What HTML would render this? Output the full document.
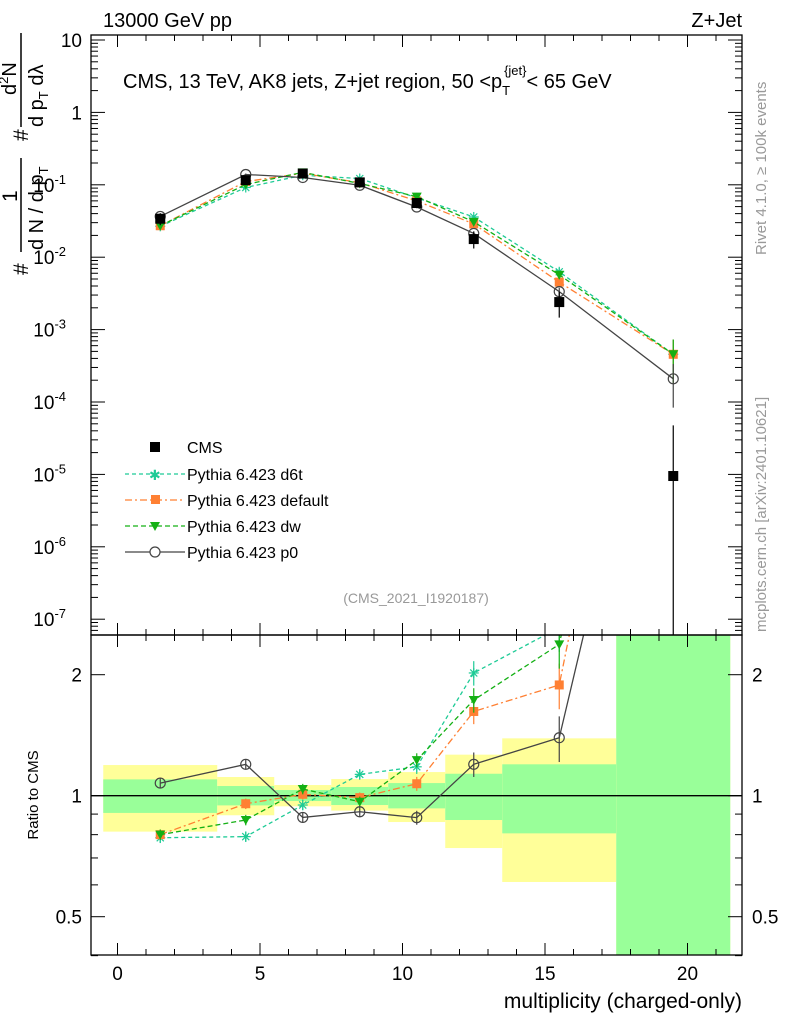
<!DOCTYPE html>
<html><head><meta charset="utf-8"><style>
html,body{margin:0;background:#fff;width:786px;height:1024px;overflow:hidden;position:relative;}
svg{display:block;font-family:"Liberation Sans",sans-serif;}
</style></head><body>
<svg id="c" width="786" height="1024"></svg>
<script>
const bins=[1.5,4.5,6.5,8.5,10.5,12.5,15.5,19.5];
const edges=[-0.5,3.5,5.5,7.5,9.5,11.5,13.5,17.5,21.5];
const cms=[0.034,0.116,0.143,0.108,0.056,0.0178,0.0024,9.5e-6];
const bandOuterLo=[0.814,0.894,0.941,0.918,0.860,0.741,0.610,0.2];
const bandOuterHi=[1.192,1.113,1.063,1.100,1.145,1.265,1.389,5];
const bandInnerLo=[0.906,0.946,0.970,0.948,0.930,0.870,0.806,0.2];
const bandInnerHi=[1.098,1.057,1.033,1.051,1.075,1.134,1.197,5];
const rD6t=[0.786,0.791,0.948,1.13,1.18,2.02,2.62,48];
const rDefault=[0.80,0.955,1.008,0.989,1.071,1.62,1.886,48];
const rDw=[0.80,0.870,1.039,0.966,1.226,1.73,2.38,48];
const rP0=[1.075,1.197,0.883,0.912,0.882,1.197,1.394,22];
const mcErr=[0.03,0.03,0.03,0.03,0.04,0.07,0.13,0.6];
const yTicksMain=[1,0,-1,-2,-3,-4,-5,-6,-7];
const xTicks=[0,5,10,15,20];
const rTicks=[0.5,1,2];

const NS="http://www.w3.org/2000/svg";
const svg=document.getElementById('c');
function el(t,a,p){const e=document.createElementNS(NS,t);for(const k in a)e.setAttribute(k,a[k]);(p||svg).appendChild(e);return e;}
const L=91,R=742,T=35,MB=635,RB=955;
const X=v=>117.5+v*28.5;
const Y=v=>40+72.4*(1-Math.log10(v));
const YR=r=>795.7-121*Math.log2(r);
const clipR=el('clipPath',{id:'cr'});el('rect',{x:L,y:MB,width:R-L,height:RB-MB},clipR);
const clipM=el('clipPath',{id:'cm'});el('rect',{x:L,y:T,width:R-L,height:MB-T},clipM);

const gB=el('g',{'clip-path':'url(#cr)'});

for(let i=0;i<bins.length;i++){
 const x0=X(edges[i]),x1=X(edges[i+1]);
 const a=el('rect',{x:x0,y:YR(bandOuterHi[i]),width:x1-x0,height:YR(bandOuterLo[i])-YR(bandOuterHi[i]),fill:'#ffff99'},gB);
 
 const b=el('rect',{x:x0,y:YR(bandInnerHi[i]),width:x1-x0,height:YR(bandInnerLo[i])-YR(bandInnerHi[i]),fill:'#99ff99'},gB);
 
}
el('line',{x1:L,x2:R,y1:YR(1),y2:YR(1),stroke:'#000','stroke-width':1.3});

const series=[
 {n:'d6t',r:rD6t,c:'#1ecb96',d:'4,3',m:'star'},
 {n:'default',r:rDefault,c:'#ff8033',d:'7,3,2,3',m:'sq'},
 {n:'dw',r:rDw,c:'#14b014',d:'5,3',m:'tri'},
 {n:'p0',r:rP0,c:'#444',d:'',m:'circ'}];
function marker(g,m,x,y,c){
 if(m==='sq')el('rect',{x:x-4.5,y:y-4.5,width:9,height:9,fill:c},g);
 else if(m==='tri')el('path',{d:`M${x-5},${y-4}L${x+5},${y-4}L${x},${y+5}Z`,fill:c},g);
 else if(m==='circ')el('circle',{cx:x,cy:y,r:5,fill:'none',stroke:c,'stroke-width':1.2},g);
 else{for(const a of [0,45,90,135]){const t=a*Math.PI/180;el('line',{x1:x-5*Math.cos(t),y1:y-5*Math.sin(t),x2:x+5*Math.cos(t),y2:y+5*Math.sin(t),stroke:c,'stroke-width':1.2},g);}}
}
function drawSeries(s,main){
 const g=el('g',{'clip-path':main?'url(#cm)':'url(#cr)'});
 
 
 const pts=bins.map((b,i)=>{const v=s.r[i]*(main?cms[i]:1);return [X(b),main?Y(v):YR(v),v];});
 el('polyline',{points:pts.map(p=>p[0]+','+p[1]).join(' '),fill:'none',stroke:s.c,'stroke-width':1.3,'stroke-dasharray':s.d},g);
 pts.forEach((p,i)=>{
  const f=main?Y:YR;const v=p[2];
  el('line',{x1:p[0],x2:p[0],y1:f(v*(1+mcErr[i])),y2:f(v*Math.max(0.05,1-mcErr[i])),stroke:s.c,'stroke-width':1.2},g);
  marker(g,s.m,p[0],p[1],s.c);
 });
}
series.forEach(s=>drawSeries(s,false));
series.forEach(s=>drawSeries(s,true));
const gC=el('g',{'clip-path':'url(#cm)'});

bins.forEach((b,i)=>{
 el('line',{x1:X(b),x2:X(b),y1:Y(cms[i]*bandOuterHi[i]),y2:i===7?MB:Y(cms[i]*bandOuterLo[i]),stroke:'#000','stroke-width':1.2},gC);
 el('rect',{x:X(b)-5,y:Y(cms[i])-5,width:10,height:10,fill:'#000'},gC);
});

el('rect',{x:L,y:T,width:R-L,height:MB-T,fill:'none',stroke:'#000','stroke-width':1.3});
el('rect',{x:L,y:MB,width:R-L,height:RB-MB,fill:'none',stroke:'#000','stroke-width':1.3});
for(let v=-0;v<=21;v++){
 const maj=v%5===0,x=X(v),len=maj?12:6;
 for(const [y0,d] of [[MB,-1],[T,1],[RB,-1],[MB,1]])el('line',{x1:x,x2:x,y1:y0,y2:y0+d*len,stroke:'#000'});
}
xTicks.forEach(v=>{const t=el('text',{x:X(v),y:980,'font-size':19,'text-anchor':'middle'});t.textContent=v;
 });
for(let e=-8;e<=1;e++){for(let k=1;k<10;k++){const v=k*Math.pow(10,e);const y=Y(v);if(y<T||y>MB)continue;
 const len=k===1?14:7;el('line',{x1:L,x2:L+len,y1:y,y2:y,stroke:'#000'});el('line',{x1:R,x2:R-len,y1:y,y2:y,stroke:'#000'});}}
yTicksMain.forEach(e=>{const y=Y(Math.pow(10,e));const t=el('text',{x:e>=0?82:66,y:y+7,'font-size':19,'text-anchor':'end'});
 
 if(e===1)t.textContent='10';else if(e===0)t.textContent='1';
 else{t.textContent='10';const s=el('tspan',{dy:-8,'font-size':13},t);s.textContent=e;}});
[0.4,0.5,0.6,0.7,0.8,0.9,1,2].forEach(v=>{const y=YR(v);const len=rTicks.includes(v)?14:7;
 el('line',{x1:L,x2:L+len,y1:y,y2:y,stroke:'#000'});el('line',{x1:R,x2:R-len,y1:y,y2:y,stroke:'#000'});});
rTicks.forEach(v=>{for(const [x,a] of [[82,'end'],[752,'start']]){const t=el('text',{x:x,y:YR(v)+7,'font-size':19,'text-anchor':a});t.textContent=v;
 }});
</script>
<svg width="786" height="1024" style="position:absolute;left:0;top:0">
<text x="103" y="27" font-size="20">13000 GeV pp</text>
<text x="742" y="27" font-size="20" text-anchor="end">Z+Jet</text>
<text x="123" y="88" font-size="20">CMS, 13 TeV, AK8 jets, Z+jet region, 50 &lt;p<tspan dy="7" font-size="13">T</tspan><tspan dx="-6" dy="-20" font-size="13">{jet}</tspan><tspan dy="13">&lt; 65 GeV</tspan></text>
<text x="416" y="603" font-size="14" fill="#999" text-anchor="middle">(CMS_2021_I1920187)</text>
<text transform="translate(766,255) rotate(-90)" font-size="15" fill="#999">Rivet 4.1.0, ≥ 100k events</text>
<text transform="translate(766,632) rotate(-90)" font-size="15" fill="#999">mcplots.cern.ch [arXiv:2401.10621]</text>
<text transform="translate(38,795) rotate(-90)" font-size="15" text-anchor="middle">Ratio to CMS</text>
<text x="742" y="1008" font-size="21" text-anchor="end">multiplicity (charged-only)</text>
<g transform="translate(0,275) rotate(-90)" font-size="21">
<text x="0" y="28">#</text>
<line x1="23" x2="117" y1="21" y2="21" stroke="#000" stroke-width="1.5"/>
<text x="73" y="17">1</text>
<text x="25" y="43" font-size="20">d N / d p<tspan font-size="13" dy="5">T</tspan></text>
<text x="134" y="28">#</text>
<line x1="148" x2="242" y1="21" y2="21" stroke="#000" stroke-width="1.5"/>
<text x="180" y="16" font-size="20">d<tspan font-size="13" dy="-8">2</tspan><tspan dy="8">N</tspan></text>
<text x="148" y="43" font-size="20">d p<tspan font-size="13" dy="5">T</tspan><tspan dy="-5"> d</tspan>λ</text>
</g>
<g font-size="16">
<rect x="150" y="442" width="10" height="10" fill="#000"/><text x="187" y="453">CMS</text>
<line x1="125" x2="185" y1="474" y2="474" stroke="#1ecb96" stroke-dasharray="4,3" stroke-width="1.3"/><text x="187" y="480">Pythia 6.423 d6t</text>
<text x="149" y="480" font-size="14" fill="#1ecb96">✱</text>
<line x1="125" x2="185" y1="500" y2="500" stroke="#ff8033" stroke-dasharray="7,3,2,3" stroke-width="1.3"/><rect x="151" y="495" width="9" height="9" fill="#ff8033"/><text x="187" y="506">Pythia 6.423 default</text>
<line x1="125" x2="185" y1="526" y2="526" stroke="#14b014" stroke-dasharray="5,3" stroke-width="1.3"/><path d="M150,522L160,522L155,531Z" fill="#14b014"/><text x="187" y="532">Pythia 6.423 dw</text>
<line x1="125" x2="185" y1="552" y2="552" stroke="#444" stroke-width="1.3"/><circle cx="155" cy="552" r="5" fill="#fff" stroke="#444" stroke-width="1.2"/><text x="187" y="558">Pythia 6.423 p0</text>
</g>
</svg>
</body></html>
